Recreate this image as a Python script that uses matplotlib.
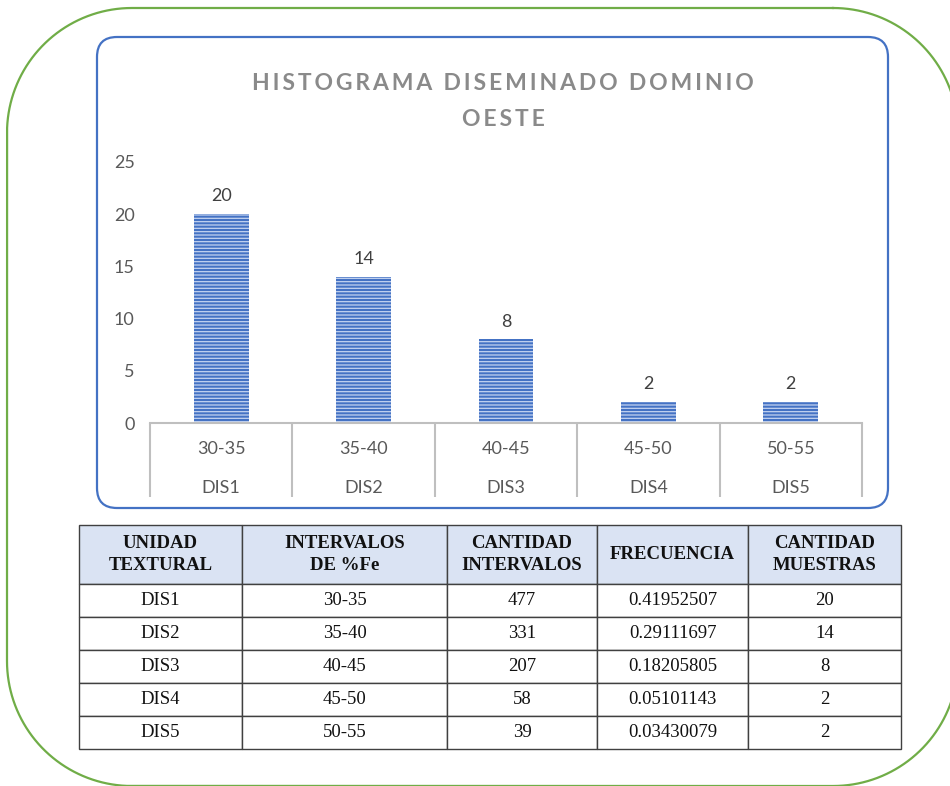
import matplotlib
matplotlib.use("Agg")
import numpy as np
import matplotlib.pyplot as plt
from matplotlib.patches import FancyBboxPatch

# Data
intervalos = ["30-35", "35-40", "40-45", "45-50", "50-55"]
unidades = ["DIS1", "DIS2", "DIS3", "DIS4", "DIS5"]
muestras = [20, 14, 8, 2, 2]
cant_intervalos = [477, 331, 207, 58, 39]
frecuencia = ["0.41952507", "0.29111697", "0.18205805", "0.05101143", "0.03430079"]
col_labels = ["UNIDAD\nTEXTURAL", "INTERVALOS\nDE %Fe", "CANTIDAD\nINTERVALOS",
              "FRECUENCIA", "CANTIDAD\nMUESTRAS"]
yticks = [0, 5, 10, 15, 20, 25]

W, H = 950, 786
fig = plt.figure(figsize=(W / 100, H / 100), dpi=100)


def rounded_outline(x0, y0, x1, y1, r, n=40):
    # polyline of a rounded rectangle (y grows downwards)
    pts = []
    corners = [(x1 - r, y0 + r, -90, 0), (x1 - r, y1 - r, 0, 90),
               (x0 + r, y1 - r, 90, 180), (x0 + r, y0 + r, 180, 270)]
    for cx, cy, a0, a1 in corners:
        a = np.radians(np.linspace(a0, a1, n))
        pts += list(zip(cx + r * np.cos(a), cy + r * np.sin(a)))
    pts.append(pts[0])
    return np.array(pts)


# background layer in pixel coordinates (frames)
bg = fig.add_axes([0, 0, 1, 1])
bg.set_xlim(0, W)
bg.set_ylim(H, 0)
bg.axis("off")
g = rounded_outline(7, 8, 958, 786, 125)
bg.plot(g[:, 0], g[:, 1], color="#70ad47", linewidth=1.6, clip_on=False)
bg.add_patch(FancyBboxPatch((97, 37), 791, 471, boxstyle="round,pad=0,rounding_size=20",
                            fill=False, edgecolor="#4472c4", linewidth=1.6))

# title with letter spacing
title1 = "\u2009".join("HISTOGRAMA DISEMINADO DOMINIO")
title2 = "\u2009".join("OESTE")
for txt, y in [(title1, 83), (title2, 120)]:
    bg.text(503, y, txt, ha="center", va="center", fontsize=16.5, fontweight="bold",
            color="#8a8a8a", family=["Lato", "DejaVu Sans"])

# chart axes
ax = fig.add_axes([150 / W, (H - 423) / H, 712 / W, 261 / H])
x = list(range(len(muestras)))
plt.rcParams["hatch.linewidth"] = 0.9
bars = ax.bar(x, muestras, width=0.385, color="#4472c4", edgecolor="#c3d3f0",
              hatch="-----", linewidth=0)
ax.bar_label(bars, padding=7, fontsize=13, color="#404040", family="Lato")

ax.set_xlim(-0.5, len(muestras) - 0.5)
ax.set_ylim(0, 25)
ax.set_yticks(yticks)
ax.set_xticks([])
ax.tick_params(axis="y", length=0, pad=11, labelsize=13, labelcolor="#595959")
for lab in ax.get_yticklabels():
    lab.set_family("Lato")
for s in ["top", "right", "left"]:
    ax.spines[s].set_visible(False)
ax.spines["bottom"].set_color("#bfbfbf")
ax.spines["bottom"].set_linewidth(1.5)
ax.patch.set_alpha(0)

# multi-level category axis
tr = ax.get_xaxis_transform()
bounds = [i - 0.5 for i in range(len(muestras) + 1)]
ax.vlines(bounds, -0.284, 0, transform=tr, colors="#bfbfbf", linewidth=1.5, clip_on=False)
for i in x:
    ax.text(i, -0.10, intervalos[i], transform=tr, ha="center", va="center",
            fontsize=13, color="#595959", family="Lato")
    ax.text(i, -0.25, unidades[i], transform=tr, ha="center", va="center",
            fontsize=13, color="#595959", family="Lato")

# table
cells = [[unidades[i], intervalos[i], str(cant_intervalos[i]), frecuencia[i], str(muestras[i])]
         for i in range(len(unidades))]
tb = bg.table(cellText=cells, colLabels=col_labels, cellLoc="center",
              colWidths=[163, 205, 150, 151, 153],
              bbox=[79 / W, (H - 749) / H, 822 / W, 224 / H])
tb.auto_set_font_size(False)
for (r, c), cell in tb.get_celld().items():
    cell.set_edgecolor("#404040")
    cell.set_linewidth(1.0)
    cell.set_height(59 if r == 0 else 33)
    t = cell.get_text()
    t.set_family("Liberation Serif")
    t.set_fontsize(13.5)
    t.set_color("#111111")
    if r == 0:
        cell.set_facecolor("#dae3f3")
        t.set_fontweight("bold")
        t.set_linespacing(1.35)
    else:
        cell.set_facecolor("white")

fig.savefig("out.png", dpi=100)
